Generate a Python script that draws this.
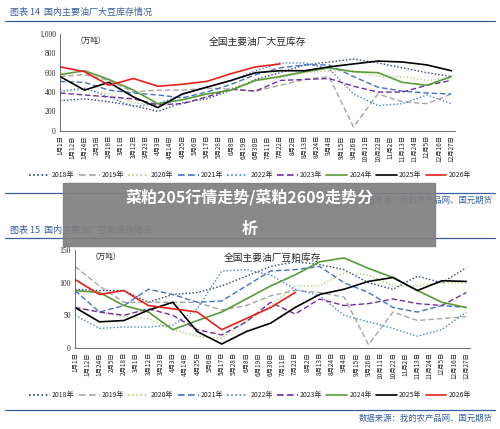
import numpy as np, pandas as pd, seaborn as sns, matplotlib
matplotlib.use("Agg")
import matplotlib.pyplot as plt
from matplotlib.patches import Rectangle
from matplotlib.lines import Line2D

sns.set_style("white")
plt.rcParams['font.family'] = ['Noto Sans CJK SC', 'DejaVu Sans']

dates = ["1月1日","1月12日","1月24日","2月5日","2月18日","3月1日","3月12日","3月23日","4月3日","4月14日",
         "4月25日","5月6日","5月17日","5月28日","6月8日","6月19日","6月30日","7月11日","7月22日","8月2日",
         "8月13日","8月24日","9月4日","9月15日","9月26日","10月11日","10月22日","11月2日","11月13日",
         "11月24日","12月5日","12月16日","12月27日"]
years = ["2018年","2019年","2020年","2021年","2022年","2023年","2024年","2025年","2026年"]
N = np.nan
bean = {
 "2018年": [310,330,300,260,200,290,330,420,530,600,680,710,740,700,650,600,560],
 "2019年": [560,580,520,400,420,420,440,430,410,470,530,560,40,380,300,280,380],
 "2020年": [400,430,380,290,260,280,350,440,520,550,600,620,620,560,560,520,540],
 "2021年": [510,500,420,390,370,340,400,480,580,650,680,680,560,450,410,390,380],
 "2022年": [410,440,350,250,280,370,450,520,620,700,700,640,380,260,280,370,280],
 "2023年": [390,370,350,330,270,280,350,430,410,520,530,540,460,400,400,470,520],
 "2024年": [580,620,530,420,280,320,380,420,520,560,610,650,610,600,500,470,560],
 "2025年": [560,420,500,350,240,380,450,520,600,620,620,660,690,720,710,680,620],
 "2026年": [660,610,470,540,460,480,510,590,660,690,N,N,N,N,N,N,N],
}
meal = {
 "2018年": [90,88,88,70,82,85,95,110,125,132,128,120,100,90,110,100,123],
 "2019年": [125,95,70,70,70,70,58,65,80,88,85,78,5,55,42,45,48],
 "2020年": [62,55,48,45,28,18,15,40,65,95,95,115,112,95,95,100,100],
 "2021年": [88,55,65,90,82,70,72,95,118,120,125,100,85,62,55,65,62],
 "2022年": [50,30,32,32,35,60,118,120,112,90,80,50,40,30,18,28,55],
 "2023年": [62,55,50,60,50,28,20,40,70,52,75,65,68,75,68,65,85],
 "2024年": [88,85,65,55,28,42,55,75,95,112,132,138,122,108,88,70,62],
 "2025年": [62,40,42,58,70,25,6,25,38,62,82,90,102,108,88,103,102],
 "2026年": [105,82,88,65,60,55,28,45,62,85,N,N,N,N,N,N,N],
}
styles = {
 "2018年": ("#2e3d7c", (0,(1,1.5))), "2019年": ("#a6a6a6", (0,(4,2))),
 "2020年": ("#b5cf7a", (0,(1,1.5))), "2021年": ("#4472c4", (0,(4,2))),
 "2022年": ("#4f7fcc", (0,(1,1.5))), "2023年": ("#7030a0", (0,(4,2))),
 "2024年": ("#5a9a3a", "-"), "2025年": ("#000000", "-"), "2026年": ("#e8201c", "-"),
}
BLUE = "#3a5f9e"
fig = plt.figure(figsize=(5, 4.29), dpi=100)

def draw(ax, data, ymax, yt, title, yfmt):
    xs = np.arange(0, 33, 2)
    for y in years:
        c, ls = styles[y]
        lw = 1.2 if y in ("2024年","2025年","2026年") else 1.0
        sns.lineplot(x=xs, y=data[y], ax=ax, color=c, linestyle=ls, lw=lw)
    ax.set_xlim(0, 32.3); ax.set_ylim(0, ymax)
    ax.set_xticks(range(33)); ax.set_xticklabels(dates, rotation=90, fontsize=4.6)
    ax.set_yticks(yt); ax.set_yticklabels([yfmt(v) for v in yt], fontsize=5.5, family='Liberation Serif')
    ax.tick_params(length=2, width=0.5, pad=1)
    for s in ("top","right"): ax.spines[s].set_visible(False)
    for s in ("left","bottom"): ax.spines[s].set_linewidth(0.6); ax.spines[s].set_color("#555")
    ax.text(0.5, 0.97, title, transform=ax.transAxes, ha='center', va='top', fontsize=7)
    ax.text(0.04, 0.97, "（万吨）", transform=ax.transAxes, ha='left', va='top', fontsize=5.5)

def legend(y):
    h = [Line2D([], [], color=styles[k][0], ls=styles[k][1], lw=1.2) for k in years]
    fig.legend(h, years, loc='center', bbox_to_anchor=(0.5, y), ncol=9, fontsize=5,
               frameon=False, handlelength=3, columnspacing=0.6, handletextpad=0.3)

ax1 = fig.add_axes([0.12, 0.695, 0.79, 0.226])
draw(ax1, bean, 1000, [0,200,400,600,800,1000], "全国主要油厂大豆库存", lambda v: f"{v:,}")
ax2 = fig.add_axes([0.15, 0.189, 0.79, 0.228])
draw(ax2, meal, 150, [0,50,100,150], "全国主要油厂豆粕库存", str)
legend(0.592); legend(0.079)

fig.text(0.02, 0.972, "图表 14  国内主要油厂大豆库存情况", color=BLUE, fontsize=6.5, va='center')
fig.text(0.02, 0.464, "图表 15  国内主要油厂豆粕库存情况", color=BLUE, fontsize=6.5, va='center')
for yy in (0.951, 0.55, 0.445, 0.044):
    fig.add_artist(Line2D([0.01, 0.99], [yy, yy], color=BLUE, lw=0.9))
fig.text(0.985, 0.533, "数据来源：我的农产品网、国元期货", color=BLUE, fontsize=6, ha='right', va='center')
fig.text(0.985, 0.025, "数据来源：我的农产品网、国元期货", color=BLUE, fontsize=6, ha='right', va='center')
fig.add_artist(Rectangle((0.126, 0.426), 0.744, 0.148, transform=fig.transFigure,
                         color="#7f7f7f", alpha=0.92, zorder=10))
fig.text(0.5, 0.54, "菜粕205行情走势/菜粕2609走势分", color='white', fontsize=11.5,
         fontweight='bold', ha='center', va='center', zorder=11)
fig.text(0.5, 0.467, "析", color='white', fontsize=11.5, fontweight='bold',
         ha='center', va='center', zorder=11)
fig.savefig("out.png", dpi=100)
